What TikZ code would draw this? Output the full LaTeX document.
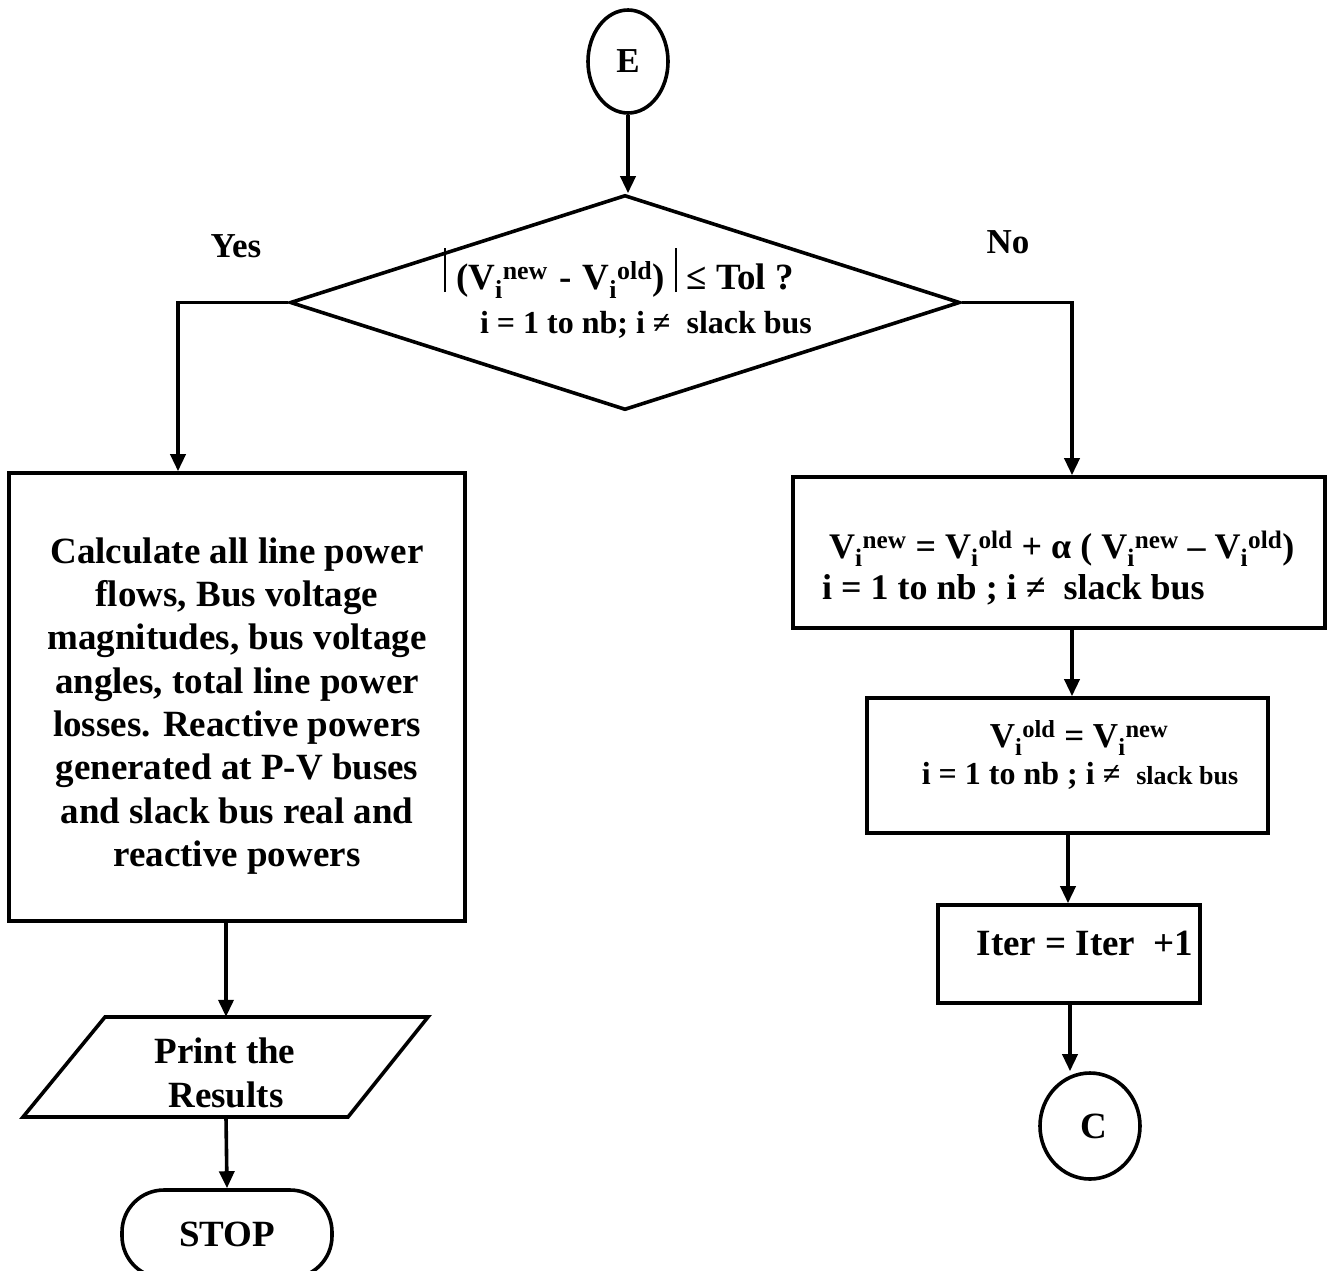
\documentclass[tikz,border=0pt]{standalone}
\usepackage{fontspec}
\setmainfont{Liberation Serif}
\usetikzlibrary{shapes.geometric,arrows.meta}
\newcommand{\fsz}[2]{\fontsize{#1pt}{#2pt}\selectfont}
\newcommand{\Vx}[1]{V\textsubscript{i}\textsuperscript{#1}}
\newcommand{\absbar}{\rule[-3pt]{2pt}{44pt}}
\begin{document}
\begin{tikzpicture}[x=1pt,y=-1pt,
  ln/.style={line width=3.6pt},
  arr/.style={line width=3.6pt,-{Triangle[length=17pt,width=15pt]}},
  box/.style={draw,rectangle,line width=3.6pt,inner sep=0pt},
  oval/.style={draw,ellipse,line width=3.6pt,inner sep=0pt},
  dia/.style={draw,diamond,line width=3.6pt,inner sep=0pt,aspect=3.12},
  txt/.style={inner sep=0pt,anchor=base,font=\bfseries\fsz{37}{43}}
]
\useasboundingbox (0,0) rectangle (1328,1270);

% start connector
\node[oval,minimum width=80pt,minimum height=103pt,font=\bfseries\fsz{35}{40}] (E) at (628,61.5) {E};

% decision
\node[dia,minimum width=670pt,minimum height=215pt] (D) at (625,302.5) {};
\node[txt,font=\bfseries\fsz{37}{40}] (Dl1) at (619,289) {\absbar\hspace{10pt}(\Vx{new}\hspace{2pt} - \hspace{2pt}\Vx{old})\hspace{10pt}\absbar\hspace{10pt}≤ Tol ?};
\node[txt,font=\bfseries\fsz{32}{36}] (Dl2) at (646,333) {i = 1 to nb; i ≠~ slack bus};

\node[txt,font=\bfseries\fsz{35}{40}] (yes) at (236,257) {Yes};
\node[txt,font=\bfseries\fsz{35}{40}] (no) at (1008,253) {No};

% left branch
\node[box,minimum width=456pt,minimum height=448pt] (LB) at (237,697) {};
\node[inner sep=0pt,align=center,font=\bfseries\fsz{37}{43.3}] (LBt) at (237,706)
  {Calculate all line power\\flows, Bus voltage\\magnitudes, bus voltage\\angles, total line power\\losses. Reactive powers\\generated at P-V buses\\and slack bus real and\\reactive powers};

\node[inner sep=0pt,minimum width=243pt,minimum height=100pt] (PR) at (226,1067) {};
\draw[ln,line join=miter] ([shift={(-121,-50)}]PR.center) -- ([shift={(202,-50)}]PR.center)
  -- ([shift={(122,50)}]PR.center) -- ([shift={(-203,50)}]PR.center) -- cycle;
\node[txt] (PRa) at (225,1063) {Print the};
\node[txt] (PRb) at (226,1107) {Results};

\node[draw,rectangle,rounded corners=42pt,line width=3.6pt,minimum width=210pt,minimum height=88pt,inner sep=0pt,font=\bfseries\fsz{37}{42}] (STOP) at (227,1234) {STOP};

% right branch
\node[box,minimum width=532pt,minimum height=151pt] (R1) at (1059,552.5) {};
\node[txt,anchor=base west,font=\bfseries\fsz{36}{41}] (R1a) at (829,558) {\Vx{new} = \Vx{old} + α ( \Vx{new} – \Vx{old})};
\node[txt,anchor=base west,font=\bfseries\fsz{36}{41}] (R1b) at (822,599) {i = 1 to nb ; i ≠~ slack bus};

\node[box,minimum width=401pt,minimum height=135pt] (R2) at (1067.5,765.5) {};
\node[txt,font=\bfseries\fsz{35}{40}] (R2a) at (1079,747) {\Vx{old} = \Vx{new}};
\node[txt,font=\bfseries\fsz{32}{36}] (R2b) at (1080,784) {i = 1 to nb ; i ≠~ {\fsz{26}{30}slack bus}};

\node[box,minimum width=262pt,minimum height=98pt] (R3) at (1069,954) {};
\node[txt] (R3a) at (1085,955) {Iter = Iter~ +1};

\node[oval,minimum width=100pt,minimum height=106pt,font=\bfseries\fsz{37}{42}] (C) at (1090,1126) {\hspace{8pt}C};

% connectors
\draw[arr] (E.south) -- (E.south |- D.north);
\coordinate (YC) at (178,302.5);
\draw[arr] (D.west) -- (YC) -- (YC |- LB.north);
\coordinate (NC) at (1072,302.5);
\draw[arr] (D.east) -- (NC) -- (NC |- R1.north);
\draw[arr] (NC |- R1.south) -- (NC |- R2.north);
\coordinate (X2) at (1068,0);
\draw[arr] (X2 |- R2.south) -- (X2 |- R3.north);
\coordinate (X3) at (1070,0);
\draw[arr] (X3 |- R3.south) -- (X3 |- C.north);
\draw[arr] (LB.south -| PR.north) -- (PR.north);
\draw[arr] (PR.south) -- (STOP.north);
\end{tikzpicture}
\end{document}
